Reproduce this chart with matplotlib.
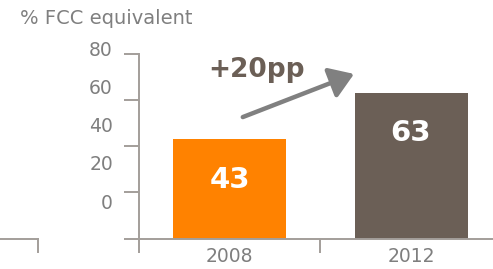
import matplotlib
matplotlib.use("Agg")
import matplotlib.pyplot as plt
from matplotlib.lines import Line2D
from matplotlib.patches import FancyArrowPatch

# data
categories = ["2008", "2012"]
values = [43, 63]
bar_colors = ["#FF8200", "#6B5F56"]
ytick_labels = [0, 20, 40, 60, 80]
ylabel = "% FCC equivalent"

W, H = 493, 269
fig = plt.figure(figsize=(W / 100, H / 100), dpi=100)

axis_col = "#A39E9A"
text_col = "#7F7F7F"

left_px, right_px, bot_px, top_px = 139, 493, 238.7, 53.5
ax = fig.add_axes([left_px / W, 1 - bot_px / H, (right_px - left_px) / W, (bot_px - top_px) / H])

x = list(range(len(categories)))
ax.bar(x, values, width=0.623, color=bar_colors, zorder=2)
ax.set_xlim(-0.5, 1.452)
ax.set_ylim(0, 80)

for s in ["top", "right"]:
    ax.spines[s].set_visible(False)
for s in ["left", "bottom"]:
    ax.spines[s].set_color(axis_col)
    ax.spines[s].set_linewidth(1.4)

# y ticks (labels drawn separately, offset as in the reference)
ax.set_yticks(ytick_labels)
ax.set_yticklabels([])
ax.tick_params(axis="y", length=11, width=1.4, color=axis_col, direction="out")

# x ticks at boundaries, labels at centers
ax.set_xticks([-0.5, 0.5])
ax.set_xticklabels([])
ax.tick_params(axis="x", which="major", length=10, width=1.4, color=axis_col, direction="out")
ax.set_xticks(x, minor=True)
ax.set_xticklabels(categories, minor=True, fontsize=13.5, color=text_col)
ax.tick_params(axis="x", which="minor", length=0, pad=6)

# y labels on their own (compressed) scale, as in the reference
a_off, a_scale = 15.4, 0.826
label_x = (113 - left_px) / (right_px - left_px)
for v in ytick_labels:
    ax.text(label_x, a_off + a_scale * v, str(v), transform=ax.get_yaxis_transform(),
            ha="right", va="center", fontsize=13.5, color=text_col, clip_on=False)

# value labels
for xi, v in zip(x, values):
    ax.text(xi, v - 17.5, str(v), ha="center", va="center", color="white",
            fontsize=21, fontweight="bold", zorder=3)

# change annotation
diff = values[1] - values[0]
ax.text(0.149, 69.8, f"+{diff}pp", ha="center", va="baseline", fontsize=19,
        fontweight="bold", color="#6B5F56", clip_on=False)
arr = FancyArrowPatch((0.058, values[0] + 9.1), (0.70, values[1] + 8.6),
                      arrowstyle="-|>,head_length=9,head_width=6", mutation_scale=1.6,
                      color="#808080", linewidth=3.2, clip_on=False, zorder=4)
ax.add_patch(arr)

# y axis title
fig.text(20 / W, 1 - 18 / H, ylabel, ha="left", va="center", fontsize=14, color=text_col)

# fragment of neighbouring axis on the left
fig.add_artist(Line2D([0, 38 / W], [1 - 239 / H, 1 - 239 / H], color=axis_col, lw=1.4))
fig.add_artist(Line2D([38 / W, 38 / W], [1 - 239 / H, 1 - 252 / H], color=axis_col, lw=1.4))

fig.savefig("out.png", dpi=100)
